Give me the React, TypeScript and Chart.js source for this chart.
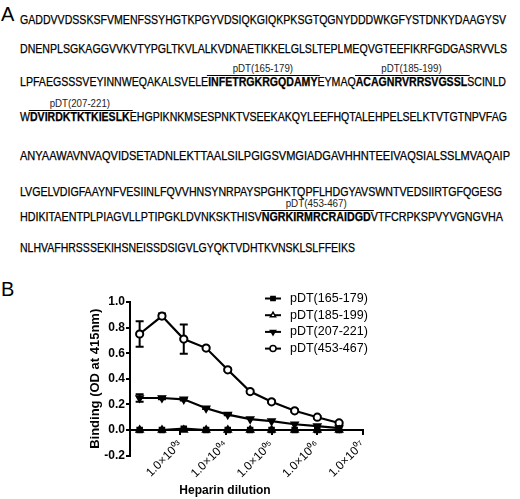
import { useEffect, useLayoutEffect, useRef } from 'react'
import { Chart, registerables, type ChartConfiguration, type Plugin } from 'chart.js'
import { drawPoint } from 'chart.js/helpers'

Chart.register(...registerables)

const FONT = '"Liberation Sans", Arial, sans-serif'

// panel B data
const dilutions = [130, 400, 1200, 3700, 11000, 34000, 100000, 320000, 1000000, 3000000]
const pdt165 = [0, 0, 0.01, 0, 0, 0, 0, 0, 0, 0]
const pdt185 = [0, 0, 0, 0, 0, 0, 0, 0, 0, 0]
const pdt207 = [0.25, 0.25, 0.24, 0.17, 0.12, 0.085, 0.07, 0.045, 0.03, 0.015]
const pdt207Err = [0.03, 0.01, 0.01, 0.005, 0.005, 0, 0, 0, 0, 0]
const pdt453 = [0.75, 0.89, 0.71, 0.64, 0.47, 0.3, 0.22, 0.15, 0.1, 0.055]
const pdt453Err = [0.1, 0.02, 0.115, 0.01, 0.01, 0.01, 0.01, 0.01, 0.01, 0.01]
const seriesNames = ['pDT(165-179)', 'pDT(185-199)', 'pDT(207-221)', 'pDT(453-467)']
const xTicks = [1e3, 1e4, 1e5, 1e6, 1e7]
const xTickLabels = ['1.0×10⁰³', '1.0×10⁰⁴', '1.0×10⁰⁵', '1.0×10⁰⁶', '1.0×10⁰⁷']

// panel A sequence, peptides in brackets
const sequenceLines = [
  'GADDVVDSSKSFVMENFSSYHGTKPGYVDSIQKGIQKPKSGTQGNYDDDWKGFYSTDNKYDAAGYSV',
  'DNENPLSGKAGGVVKVTYPGLTKVLALKVDNAETIKKELGLSLTEPLMEQVGTEEFIKRFGDGASRVVLS',
  'LPFAEGSSSVEYINNWEQAKALSVELE[INFETRGKRGQDAMY]EYMAQ[ACAGNRVRRSVGSSL]SCINLD',
  'W[DVIRDKTKTKIESLK]EHGPIKNKMSESPNKTVSEEKAKQYLEEFHQTALEHPELSELKTVTGTNPVFAG',
  'ANYAAWAVNVAQVIDSETADNLEKTTAALSILPGIGSVMGIADGAVHHNTEEIVAQSIALSSLMVAQAIP',
  'LVGELVDIGFAAYNFVESIINLFQVVHNSYNRPAYSPGHKTQPFLHDGYAVSWNTVEDSIIRTGFQGESG',
  'HDIKITAENTPLPIAGVLLPTIPGKLDVNKSKTHISV[NGRKIRMRCRAIDGD]VTFCRPKSPVYVGNGVHA',
  'NLHVAFHRSSSEKIHSNEISSDSIGVLGYQKTVDHTKVNSKLSLFFEIKS',
]
const lineCenters = [20, 49, 82.5, 117.5, 156.5, 192, 217, 248.5]
const lineEnds = [506, 507, 506, 507, 510, 502, 503, 355]
const LINE_LEFT = 20

const errorsByDataset: (number[] | null)[] = [null, null, pdt207Err, pdt453Err]

const errorBarPlugin: Plugin<'line'> = {
  id: 'errorBars',
  beforeDatasetsDraw(chart) {
    const { ctx } = chart
    const yScale = chart.scales.y
    ctx.save()
    ctx.strokeStyle = '#000'
    ctx.lineWidth = 2
    errorsByDataset.forEach((errs, i) => {
      if (!errs) return
      const meta = chart.getDatasetMeta(i)
      const values = chart.data.datasets[i].data as { x: number; y: number }[]
      meta.data.forEach((pt, j) => {
        const e = errs[j]
        if (!e) return
        const top = yScale.getPixelForValue(values[j].y + e)
        const bottom = yScale.getPixelForValue(values[j].y - e)
        ctx.beginPath()
        ctx.moveTo(pt.x, top)
        ctx.lineTo(pt.x, bottom)
        ctx.moveTo(pt.x - 4, top)
        ctx.lineTo(pt.x + 4, top)
        ctx.moveTo(pt.x - 4, bottom)
        ctx.lineTo(pt.x + 4, bottom)
        ctx.stroke()
      })
    })
    ctx.restore()
  },
}

const legendPlugin: Plugin<'line'> = {
  id: 'sideLegend',
  afterDraw(chart) {
    const { ctx } = chart
    ctx.save()
    chart.data.datasets.forEach((ds: any, i) => {
      const y = 38.5 + i * 16.7
      ctx.strokeStyle = '#000'
      ctx.lineWidth = 2
      ctx.beginPath()
      ctx.moveTo(265, y)
      ctx.lineTo(281, y)
      ctx.stroke()
      ctx.fillStyle = ds.pointBackgroundColor
      ctx.lineWidth = 1.5
      drawPoint(ctx, { pointStyle: ds.pointStyle, rotation: ds.pointRotation ?? 0, radius: 3, borderWidth: 1.5 }, 273, y)
      ctx.fillStyle = '#000'
      ctx.font = `12.5px ${FONT}`
      ctx.textBaseline = 'middle'
      ctx.textAlign = 'left'
      ctx.fillText(ds.label, 290, y)
    })
    ctx.restore()
  },
}

function BindingChart() {
  const canvasRef = useRef<HTMLCanvasElement | null>(null)
  const chartRef = useRef<Chart<'line'> | null>(null)

  useEffect(() => {
    const canvas = canvasRef.current
    if (!canvas) return
    chartRef.current?.destroy()

    const mk = (vals: number[]) => dilutions.map((x, k) => ({ x, y: vals[k] }))
    const base = {
      borderColor: '#000',
      borderWidth: 2.2,
      pointBorderColor: '#000',
      pointBorderWidth: 1.6,
      tension: 0,
    }

    const config: ChartConfiguration<'line'> = {
      type: 'line',
      data: {
        datasets: [
          { ...base, label: seriesNames[0], data: mk(pdt165), pointStyle: 'rect', pointRadius: 3.5, pointBackgroundColor: '#000' },
          { ...base, label: seriesNames[1], data: mk(pdt185), pointStyle: 'triangle', pointRadius: 4, pointBackgroundColor: '#fff' },
          { ...base, label: seriesNames[2], data: mk(pdt207), pointStyle: 'triangle', pointRotation: 180, pointRadius: 4, pointBackgroundColor: '#000' },
          { ...base, label: seriesNames[3], data: mk(pdt453), pointStyle: 'circle', pointRadius: 3.6, pointBorderWidth: 2, pointBackgroundColor: '#fff' },
        ] as any,
      },
      options: {
        responsive: false,
        animation: false,
        events: [],
        layout: { padding: { left: 88, right: 157, top: 42, bottom: 43.4 } },
        plugins: { legend: { display: false }, tooltip: { enabled: false } },
        scales: {
          x: {
            type: 'logarithmic',
            position: { y: 0 } as any,
            min: 80,
            max: 1e7,
            bounds: 'data',
            afterBuildTicks: (scale) => {
              scale.ticks = xTicks.map((value) => ({ value }))
            },
            ticks: {
              autoSkip: false,
              minRotation: 45,
              maxRotation: 45,
              padding: 4,
              color: '#000',
              font: { family: FONT, size: 12 },
              callback: (_v, index) => xTickLabels[index] ?? '',
            },
            grid: { drawOnChartArea: false, drawTicks: true, tickLength: 4, color: '#000', lineWidth: 2 },
            border: { display: true, color: '#000', width: 2 },
          },
          y: {
            min: -0.2,
            max: 1.0,
            afterFit: (scale) => {
              scale.width = 42
            },
            ticks: {
              stepSize: 0.2,
              padding: 1,
              color: '#000',
              font: { family: FONT, size: 12, weight: 'bold' },
              callback: (v) => {
                const n = Number(v)
                return (Math.abs(n) < 1e-9 ? 0 : n).toFixed(1)
              },
            },
            grid: { drawOnChartArea: false, tickLength: 4, color: '#000', lineWidth: 2 },
            border: { display: true, color: '#000', width: 2 },
            title: {
              display: true,
              text: 'Binding (OD at 415nm)',
              color: '#000',
              font: { family: FONT, size: 13, weight: 'bold' },
              padding: 0,
            },
          },
        },
      },
      plugins: [errorBarPlugin, legendPlugin],
    }

    chartRef.current = new Chart(canvas, config)
    return () => {
      chartRef.current?.destroy()
      chartRef.current = null
    }
  }, [])

  return <canvas ref={canvasRef} width={520} height={239} style={{ width: 520, height: 239, display: 'block' }} />
}

function SequenceLine({ text, lineIndex, startLabel, setRef }: { text: string; lineIndex: number; startLabel: number; setRef: (el: HTMLDivElement | null) => void }) {
  const parts = text.split(/(\[[A-Z]+\])/).filter(Boolean)
  let labelIdx = startLabel
  return (
    <div
      ref={setRef}
      style={{
        position: 'absolute',
        left: LINE_LEFT,
        top: lineCenters[lineIndex] - 7.5,
        lineHeight: '15px',
        fontSize: 12,
        whiteSpace: 'nowrap',
        transformOrigin: 'left center',
        WebkitTextStroke: '0.25px #000',
      }}
    >
      {parts.map((p, k) => {
        if (!p.startsWith('[')) return <span key={k}>{p}</span>
        const label = seriesNames[labelIdx++]
        return (
          <span key={k} style={{ position: 'relative', fontWeight: 'bold' }}>
            {p.slice(1, -1)}
            <span style={{ position: 'absolute', left: -1, right: -3, top: 0, borderTop: '1.3px solid #000' }} />
            <span
              style={{
                position: 'absolute',
                bottom: '100%',
                marginBottom: 1,
                left: '50%',
                transform: 'translateX(-50%)',
                fontWeight: 'normal',
                fontSize: 11,
                lineHeight: '11px',
                color: '#222',
                WebkitTextStroke: '0px',
              }}
            >
              {label}
            </span>
          </span>
        )
      })}
    </div>
  )
}

export default function App() {
  const lineRefs = useRef<(HTMLDivElement | null)[]>([])

  useLayoutEffect(() => {
    lineRefs.current.forEach((el, i) => {
      if (!el) return
      const w = el.getBoundingClientRect().width
      if (w > 0) el.style.transform = `scaleX(${(lineEnds[i] - LINE_LEFT) / w})`
    })
  }, [])

  let labelCounter = 0
  const starts = sequenceLines.map((l) => {
    const s = labelCounter
    labelCounter += (l.match(/\[/g) || []).length
    return s
  })

  return (
    <div
      style={{
        position: 'absolute',
        left: 0,
        top: 0,
        width: 520,
        height: 499,
        background: '#fff',
        color: '#000',
        fontFamily: FONT,
        overflow: 'hidden',
      }}
    >
      <div style={{ position: 'absolute', left: 1, top: 4, fontSize: 20, lineHeight: '20px' }}>A</div>
      {sequenceLines.map((l, i) => (
        <SequenceLine key={i} text={l} lineIndex={i} startLabel={starts[i]} setRef={(el) => (lineRefs.current[i] = el)} />
      ))}
      <div style={{ position: 'absolute', left: 1, top: 279, fontSize: 20, lineHeight: '20px' }}>B</div>
      <div style={{ position: 'absolute', left: 0, top: 260 }}>
        <BindingChart />
      </div>
      <div
        style={{
          position: 'absolute',
          left: 225,
          top: 483,
          transform: 'translateX(-50%)',
          fontSize: 12,
          fontWeight: 'bold',
          lineHeight: '14px',
          whiteSpace: 'nowrap',
        }}
      >
        Heparin dilution
      </div>
    </div>
  )
}
